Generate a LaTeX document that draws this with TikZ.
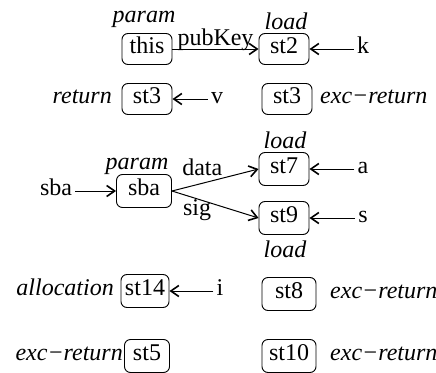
\documentclass[tikz,border=0pt]{standalone}
\usepackage{fontspec}
\setmainfont{Liberation Serif}[ItalicFont={Liberation Serif Italic}]
\usetikzlibrary{arrows.meta}
\begin{document}
\begin{tikzpicture}[x=1pt,y=-1pt,
  every node/.style={font=\fontsize{24}{28}\selectfont, text height=16pt, text depth=7pt, inner xsep=4pt, inner ysep=4pt},
  state/.style={draw, rounded corners=6pt, line width=0.9pt, minimum width=50pt},
  word/.style={inner xsep=3pt},
  tag/.style={font=\fontsize{24}{28}\selectfont\itshape, inner sep=0pt},
  flow/.style={line width=1pt, -{Straight Barb[length=8pt,width=11pt,line width=1.6pt]}}
]
\useasboundingbox (0,0) rectangle (436,372);

% first block: the receiver and its key field
\node[state] (this) at (147,49) {this};
\node[state] (st2)  at (284,49) {st2};
\node[word]  (k)    at (363,49) {k};
\node[tag, anchor=base] at (144,22) {param};
\node[tag, anchor=base] at (286,29) {load};
\draw[flow] (this) -- node[pos=0.5, anchor=base, yshift=4pt, inner sep=0pt] {pubKey} (st2);
\draw[flow] (k) -- (st2);

% returns
\node[state] (st3a) at (147,99) {st3};
\node[state] (st3b) at (287,99) {st3};
\node[word]  (v)    at (217,99) {v};
\node[tag, anchor=base east] at (112,103.5) {return};
\node[tag, anchor=base west] at (320,103.5) {exc−return};
\draw[flow] (v) -- (st3a);

% second block: the byte array parameter and its fields
\node[word]  (sbain) at (56,191) {sba};
\node[state, minimum width=55pt, minimum height=33pt] (sba) at (144,191) {sba};
\node[state, minimum height=33pt] (st7) at (284,169) {st7};
\node[state, minimum height=33pt] (st9) at (284,218) {st9};
\node[word] (a) at (363,169) {a};
\node[word] (s) at (363,218) {s};
\node[tag, anchor=base] at (137,169) {param};
\node[tag, anchor=base] at (285,148) {load};
\node[tag, anchor=base] at (285,257) {load};
\draw[flow] (sbain) -- (sba);
\draw[flow] (sba.east) -- node[pos=0.35, anchor=base, yshift=8pt, inner sep=0pt] {data} (st7.west);
\draw[flow] (sba.east) -- node[pos=0.29, anchor=base, yshift=-17pt, inner sep=0pt] {sig} (st9.west);
\draw[flow] (a) -- (st7);
\draw[flow] (s) -- (st9);

% allocation and exceptional returns
\node[state, minimum width=46pt, minimum height=33pt] (st14) at (145,291) {st14};
\node[word] (i) at (220,291) {i};
\node[tag, anchor=base east] at (114,295.5) {allocation};
\draw[flow] (i) -- (st14);

\node[state, minimum width=54pt, minimum height=33pt] (st8) at (289,294) {st8\hspace{12pt}};
\node[tag, anchor=base west] at (330,298.5) {exc−return};

\node[state, minimum width=45pt, minimum height=33pt] (st5) at (147,356) {st5};
\node[tag, anchor=base east] at (123,360) {exc−return};

\node[state, minimum width=54pt, minimum height=33pt] (st10) at (289,356) {st10};
\node[tag, anchor=base west] at (330,360) {exc−return};
\end{tikzpicture}
\end{document}
